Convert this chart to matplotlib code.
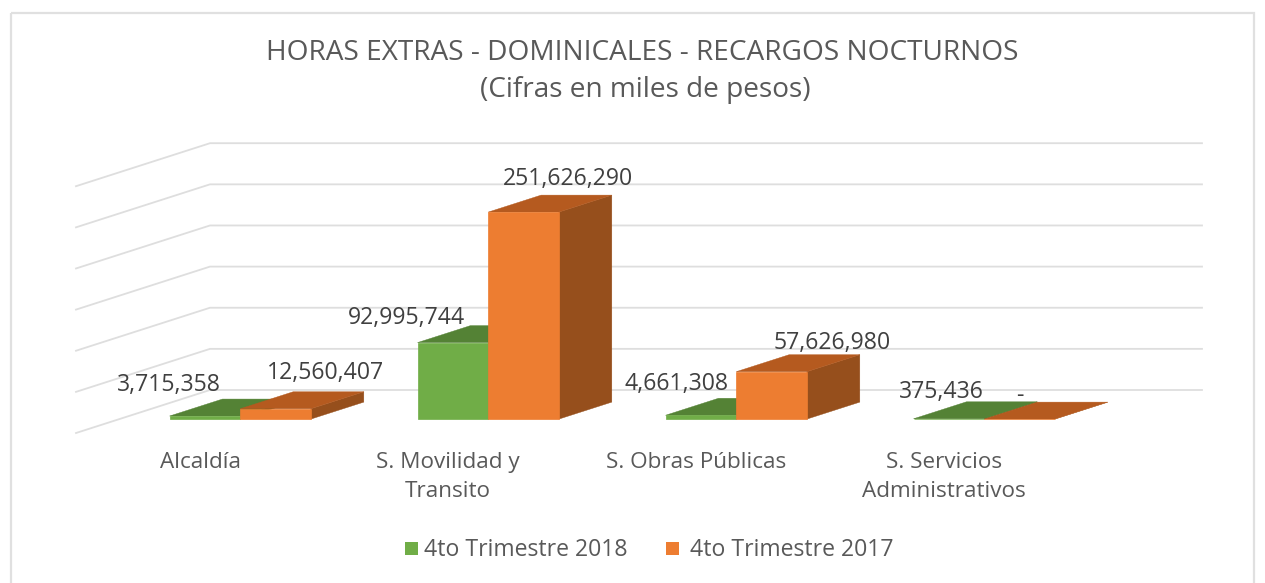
import matplotlib
matplotlib.use("Agg")
import matplotlib.pyplot as plt
from matplotlib.patches import Polygon, Rectangle

categories = ["Alcaldía", "S. Movilidad y\nTransito", "S. Obras Públicas", "S. Servicios\nAdministrativos"]
series_names = ["4to Trimestre 2018", "4to Trimestre 2017"]
values_2018 = [3715358, 92995744, 4661308, 375436]
values_2017 = [12560407, 251626290, 57626980, 0]
labels_2018 = ["3,715,358", "92,995,744", "4,661,308", "375,436"]
labels_2017 = ["12,560,407", "251,626,290", "57,626,980", "-"]
axis_ticks = [0, 50e6, 100e6, 150e6, 200e6, 250e6, 300e6]
title_lines = ["HORAS EXTRAS - DOMINICALES - RECARGOS NOCTURNOS", "(Cifras en miles de pesos)"]

FONT = "Open Sans"
TXT = "#595959"
GRID = "#DEDEDE"
X0, Y0 = 76, 433          # front-left floor corner (px)
CAT_W = 248.0             # category width (px)
DX, DY = 134, 43          # wall depth offset (px)
K = 207.0 / 251626290     # px per unit
D0, D1 = 0.30, 0.695      # bar depth span
BAR_HALF = 0.285          # bar width in category units
BAR_DY = -1               # bars sit one pixel above the floor line


def proj(c, v, d):
    return (X0 + c * CAT_W + d * DX, Y0 - v * K - d * DY)


fig = plt.figure(figsize=(12.65, 5.83), dpi=100)
ax = fig.add_axes([0, 0, 1, 1])
ax.set_xlim(0, 1265)
ax.set_ylim(583, 0)
ax.axis("off")

# chart frame
ax.add_patch(Rectangle((11, 13), 1243, 600, fill=False, ec="#E0E0E0", lw=1.6, zorder=1))

# gridlines
ncat = len(categories)
for t in axis_ticks:
    a, b, c = proj(0, t, 0), proj(0, t, 1), proj(ncat, t, 1)
    ax.plot([a[0], b[0], c[0]], [a[1], b[1], c[1]], color=GRID, lw=1.3, zorder=2)


def bar(c0, c1, v, front, top, side, z):
    pts = [proj(c0, 0, D0), proj(c1, 0, D0), proj(c0, v, D0), proj(c1, v, D0),
           proj(c0, v, D1), proj(c1, v, D1), proj(c1, 0, D1)]
    fl, fr, tl, tr, bl, br, bb = [(x, y + BAR_DY) for x, y in pts]
    ax.add_patch(Polygon([fr, bb, br, tr], fc=side, ec=side, lw=0.3, zorder=z))
    ax.add_patch(Polygon([tl, tr, br, bl], fc=top, ec=top, lw=0.3, zorder=z))
    ax.add_patch(Polygon([fl, fr, tr, tl], fc=front, ec=front, lw=0.5, zorder=z + 0.1))


GREEN = ("#70AD47", "#548235", "#43682A")
ORANGE = ("#ED7D31", "#B55A1F", "#964F1C")
for i in range(ncat):
    mid = i + 0.5
    bar(mid - BAR_HALF, mid, values_2018[i], *GREEN, 3 + i)
    bar(mid, mid + BAR_HALF, values_2017[i], *ORANGE, 3.5 + i)

# data labels: offsets from each bar's front-top centre (px)
off_2018 = [(-36, -32), (-46, -26), (-24, -32), (-7, -28)]
off_2017 = [(50, -37), (44, -34), (61, -30), (0, -24)]
for i in range(ncat):
    mid = i + 0.5
    gx, gy = proj(mid - BAR_HALF / 2, values_2018[i], D0)
    ox, oy = proj(mid + BAR_HALF / 2, values_2017[i], D0)
    ax.text(gx + off_2018[i][0], gy + off_2018[i][1], labels_2018[i], ha="center", va="center",
            family=FONT, fontsize=16.6, color="#404040", zorder=20)
    ax.text(ox + off_2017[i][0], oy + off_2017[i][1], labels_2017[i], ha="center", va="center",
            family=FONT, fontsize=16.6, color="#404040", zorder=20)

# category labels
for i, name in enumerate(categories):
    x = proj(i + 0.5, 0, 0)[0]
    ax.text(x, 452, name, ha="center", va="top", family=FONT, fontsize=16.2,
            color=TXT, linespacing=1.5, zorder=20)

# title
ax.text(642, 53.5, title_lines[0], ha="center", va="center", family=FONT, fontsize=20.2, color=TXT)
ax.text(645, 89.5, title_lines[1], ha="center", va="center", family=FONT, fontsize=20.2, color=TXT)

# legend
for (sx, tx), name, col in zip([(405, 424), (666, 690)], series_names, [GREEN[0], ORANGE[0]]):
    ax.add_patch(Rectangle((sx, 542), 13, 13, fc=col, ec="none"))
    ax.text(tx, 550.5, name, ha="left", va="center", family=FONT, fontsize=16.6, color=TXT)

fig.savefig("out.png", dpi=100, facecolor="white")
